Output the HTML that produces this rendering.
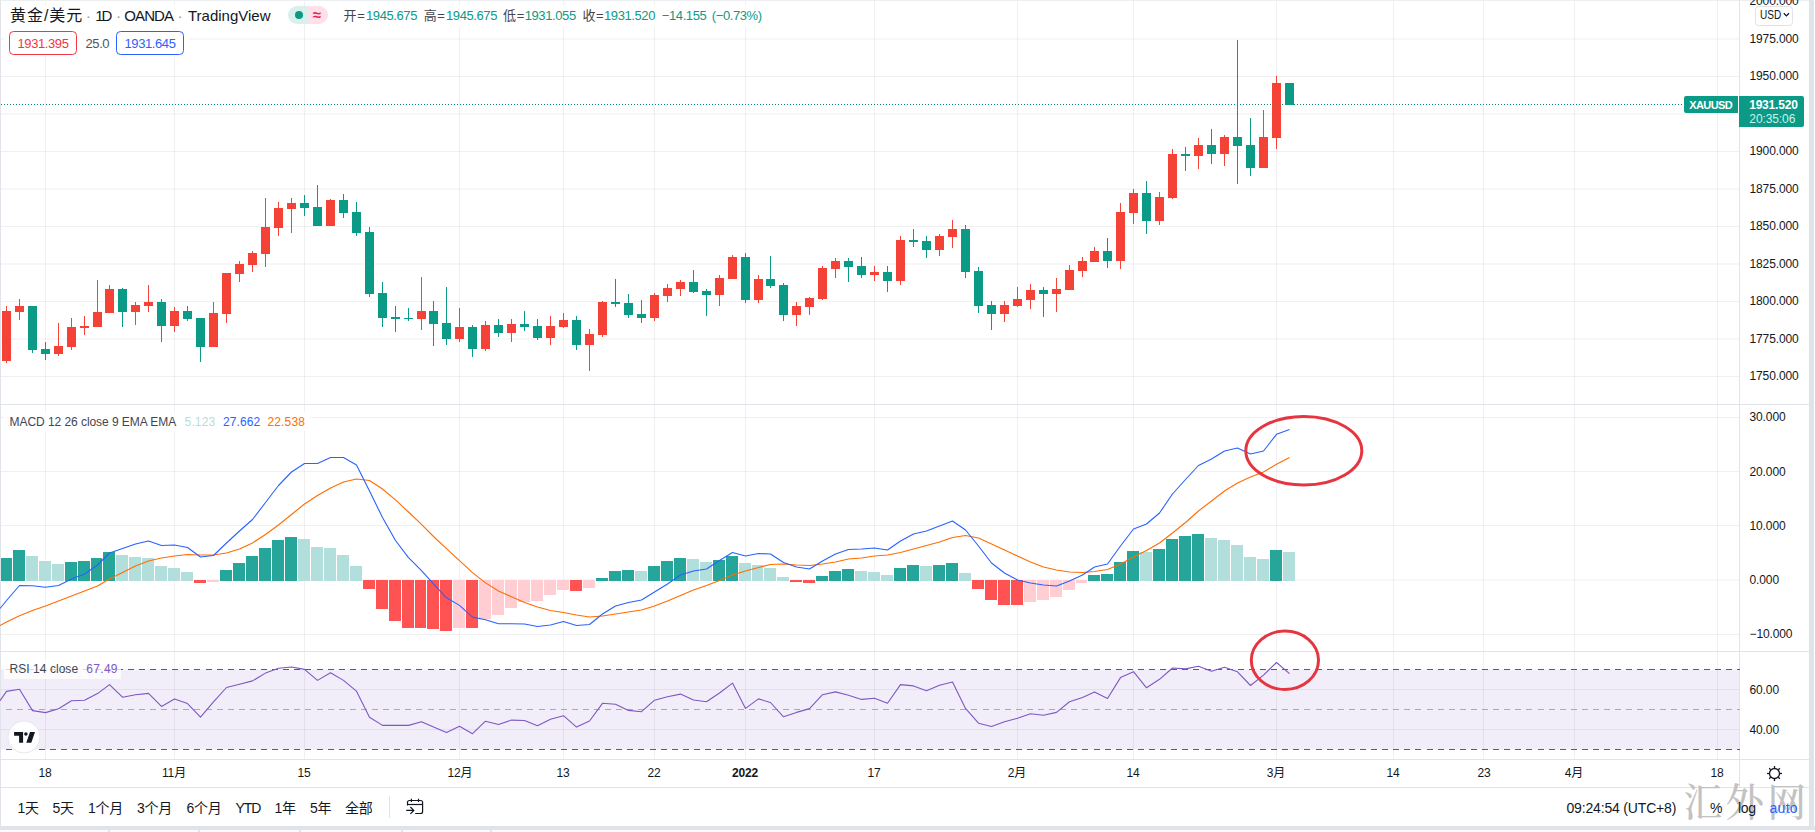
<!DOCTYPE html>
<html lang="zh"><head><meta charset="utf-8"><title>黄金/美元 1D OANDA TradingView</title>
<style>
html,body{margin:0;padding:0;background:#fff;}
body{width:1815px;height:832px;position:relative;overflow:hidden;font-family:"Liberation Sans","Noto Sans CJK SC",sans-serif;}
.t{position:absolute;white-space:nowrap;line-height:20px;height:20px;}
.d{color:#9598a1}
</style></head><body>
<svg width="1815" height="832" viewBox="0 0 1815 832" style="position:absolute;left:0;top:0">
<rect x="1" y="669.5" width="1739" height="80" fill="#7e57c2" fill-opacity="0.1"/>
<g stroke="#2a2e39" stroke-opacity="0.07" stroke-width="1" shape-rendering="crispEdges">
<line x1="45.5" y1="1" x2="45.5" y2="759"/>
<line x1="174.5" y1="1" x2="174.5" y2="759"/>
<line x1="304.5" y1="1" x2="304.5" y2="759"/>
<line x1="459.5" y1="1" x2="459.5" y2="759"/>
<line x1="563.5" y1="1" x2="563.5" y2="759"/>
<line x1="654.5" y1="1" x2="654.5" y2="759"/>
<line x1="745.5" y1="1" x2="745.5" y2="759"/>
<line x1="874.5" y1="1" x2="874.5" y2="759"/>
<line x1="1017.5" y1="1" x2="1017.5" y2="759"/>
<line x1="1133.5" y1="1" x2="1133.5" y2="759"/>
<line x1="1276.5" y1="1" x2="1276.5" y2="759"/>
<line x1="1393.5" y1="1" x2="1393.5" y2="759"/>
<line x1="1483.5" y1="1" x2="1483.5" y2="759"/>
<line x1="1574.5" y1="1" x2="1574.5" y2="759"/>
<line x1="1717.5" y1="1" x2="1717.5" y2="759"/>
</g>
<g stroke="#2a2e39" stroke-opacity="0.07" stroke-width="1">
<line x1="1" y1="39.0" x2="1739" y2="39.0"/>
<line x1="1" y1="76.5" x2="1739" y2="76.5"/>
<line x1="1" y1="114.0" x2="1739" y2="114.0"/>
<line x1="1" y1="151.5" x2="1739" y2="151.5"/>
<line x1="1" y1="189.0" x2="1739" y2="189.0"/>
<line x1="1" y1="226.5" x2="1739" y2="226.5"/>
<line x1="1" y1="264.0" x2="1739" y2="264.0"/>
<line x1="1" y1="301.5" x2="1739" y2="301.5"/>
<line x1="1" y1="339.0" x2="1739" y2="339.0"/>
<line x1="1" y1="376.5" x2="1739" y2="376.5"/>
<line x1="1" y1="417.5" x2="1739" y2="417.5"/>
<line x1="1" y1="471.5" x2="1739" y2="471.5"/>
<line x1="1" y1="525.5" x2="1739" y2="525.5"/>
<line x1="1" y1="580" x2="1739" y2="580"/>
<line x1="1" y1="634.5" x2="1739" y2="634.5"/>
<line x1="1" y1="689.5" x2="1739" y2="689.5"/>
<line x1="1" y1="729.5" x2="1739" y2="729.5"/>
</g>
<g stroke="#e1e3ea" stroke-width="1" shape-rendering="crispEdges">
<line x1="0" y1="0.5" x2="1809" y2="0.5" stroke="#eceef2"/>
<line x1="0" y1="404.5" x2="1809" y2="404.5"/>
<line x1="0" y1="651.5" x2="1809" y2="651.5"/>
<line x1="0" y1="759.5" x2="1809" y2="759.5"/>
<line x1="0" y1="787.5" x2="1809" y2="787.5"/>
<line x1="1739.5" y1="0" x2="1739.5" y2="787"/>
<line x1="0.5" y1="0" x2="0.5" y2="826"/>
<line x1="389.5" y1="796" x2="389.5" y2="818"/>
</g>
<rect x="1809" y="0" width="5" height="830" fill="#e0e4e8" shape-rendering="crispEdges"/>
<rect x="0" y="826" width="1815" height="4" fill="#e0e3eb" shape-rendering="crispEdges"/>
<rect x="0" y="830" width="1815" height="2" fill="#fbfbfc" shape-rendering="crispEdges"/>
<rect x="108" y="830" width="2" height="2" fill="#e0e3eb" shape-rendering="crispEdges"/>
<rect x="198" y="830" width="2" height="2" fill="#e0e3eb" shape-rendering="crispEdges"/>
<rect x="299" y="830" width="2" height="2" fill="#e0e3eb" shape-rendering="crispEdges"/>
<rect x="401" y="830" width="2" height="2" fill="#e0e3eb" shape-rendering="crispEdges"/>
<rect x="490" y="830" width="2" height="2" fill="#e0e3eb" shape-rendering="crispEdges"/>
<line x1="1" y1="104.5" x2="1684" y2="104.5" stroke="#0a8573" stroke-width="1" stroke-dasharray="1 2" shape-rendering="crispEdges"/>
<g shape-rendering="crispEdges">
<rect x="6.0" y="306" width="1" height="57" fill="#f44336"/>
<rect x="2.0" y="311" width="9" height="50" fill="#f44336"/>
<rect x="19.0" y="299" width="1" height="21" fill="#f44336"/>
<rect x="15.0" y="306" width="9" height="6" fill="#f44336"/>
<rect x="32.0" y="306" width="1" height="47" fill="#0a9a86"/>
<rect x="28.0" y="306" width="9" height="43.5" fill="#0a9a86"/>
<rect x="45.0" y="342" width="1" height="18" fill="#0a9a86"/>
<rect x="41.0" y="349" width="9" height="5" fill="#0a9a86"/>
<rect x="58.0" y="323" width="1" height="33" fill="#f44336"/>
<rect x="54.0" y="346" width="9" height="8" fill="#f44336"/>
<rect x="71.0" y="318" width="1" height="32" fill="#f44336"/>
<rect x="67.0" y="327" width="9" height="20" fill="#f44336"/>
<rect x="84.0" y="316" width="1" height="19" fill="#f44336"/>
<rect x="80.0" y="326" width="9" height="2" fill="#f44336"/>
<rect x="97.0" y="280" width="1" height="47" fill="#f44336"/>
<rect x="93.0" y="312" width="9" height="15" fill="#f44336"/>
<rect x="109.0" y="285" width="1" height="28" fill="#f44336"/>
<rect x="105.0" y="289" width="9" height="24" fill="#f44336"/>
<rect x="122.0" y="288" width="1" height="39" fill="#0a9a86"/>
<rect x="118.0" y="289" width="9" height="23" fill="#0a9a86"/>
<rect x="135.0" y="302" width="1" height="23" fill="#f44336"/>
<rect x="131.0" y="305" width="9" height="7" fill="#f44336"/>
<rect x="148.0" y="285" width="1" height="27" fill="#f44336"/>
<rect x="144.0" y="302" width="9" height="4" fill="#f44336"/>
<rect x="161.0" y="299" width="1" height="43" fill="#0a9a86"/>
<rect x="157.0" y="302" width="9" height="24" fill="#0a9a86"/>
<rect x="174.0" y="307" width="1" height="25" fill="#f44336"/>
<rect x="170.0" y="311" width="9" height="15" fill="#f44336"/>
<rect x="187.0" y="306" width="1" height="15" fill="#0a9a86"/>
<rect x="183.0" y="311" width="9" height="8" fill="#0a9a86"/>
<rect x="200.0" y="318" width="1" height="44" fill="#0a9a86"/>
<rect x="196.0" y="318" width="9" height="29" fill="#0a9a86"/>
<rect x="213.0" y="302" width="1" height="45" fill="#f44336"/>
<rect x="209.0" y="313" width="9" height="34" fill="#f44336"/>
<rect x="226.0" y="273" width="1" height="50" fill="#f44336"/>
<rect x="222.0" y="273" width="9" height="41" fill="#f44336"/>
<rect x="239.0" y="261" width="1" height="21" fill="#f44336"/>
<rect x="235.0" y="264" width="9" height="10" fill="#f44336"/>
<rect x="252.0" y="251" width="1" height="21" fill="#f44336"/>
<rect x="248.0" y="253" width="9" height="12" fill="#f44336"/>
<rect x="265.0" y="198" width="1" height="69" fill="#f44336"/>
<rect x="261.0" y="227" width="9" height="27" fill="#f44336"/>
<rect x="278.0" y="202" width="1" height="34" fill="#f44336"/>
<rect x="274.0" y="208" width="9" height="20" fill="#f44336"/>
<rect x="291.0" y="198" width="1" height="35" fill="#f44336"/>
<rect x="287.0" y="203" width="9" height="6" fill="#f44336"/>
<rect x="304.0" y="195" width="1" height="21" fill="#0a9a86"/>
<rect x="300.0" y="203" width="9" height="5" fill="#0a9a86"/>
<rect x="317.0" y="185" width="1" height="41" fill="#0a9a86"/>
<rect x="313.0" y="207" width="9" height="19" fill="#0a9a86"/>
<rect x="330.0" y="199" width="1" height="27" fill="#f44336"/>
<rect x="326.0" y="200" width="9" height="26" fill="#f44336"/>
<rect x="343.0" y="194" width="1" height="24" fill="#0a9a86"/>
<rect x="339.0" y="200" width="9" height="13" fill="#0a9a86"/>
<rect x="356.0" y="202" width="1" height="34" fill="#0a9a86"/>
<rect x="352.0" y="212" width="9" height="21" fill="#0a9a86"/>
<rect x="369.0" y="227" width="1" height="70" fill="#0a9a86"/>
<rect x="365.0" y="232" width="9" height="62" fill="#0a9a86"/>
<rect x="382.0" y="282" width="1" height="45" fill="#0a9a86"/>
<rect x="378.0" y="293" width="9" height="25" fill="#0a9a86"/>
<rect x="395.0" y="306" width="1" height="26" fill="#0a9a86"/>
<rect x="391.0" y="317" width="9" height="2" fill="#0a9a86"/>
<rect x="408.0" y="308" width="1" height="13" fill="#0a9a86"/>
<rect x="404.0" y="318" width="9" height="1" fill="#0a9a86"/>
<rect x="421.0" y="277" width="1" height="53" fill="#f44336"/>
<rect x="417.0" y="311" width="9" height="8" fill="#f44336"/>
<rect x="433.0" y="301" width="1" height="45" fill="#0a9a86"/>
<rect x="429.0" y="311" width="9" height="13" fill="#0a9a86"/>
<rect x="446.0" y="287" width="1" height="58" fill="#0a9a86"/>
<rect x="442.0" y="323" width="9" height="16" fill="#0a9a86"/>
<rect x="459.0" y="308" width="1" height="34" fill="#f44336"/>
<rect x="455.0" y="327" width="9" height="12" fill="#f44336"/>
<rect x="472.0" y="325" width="1" height="32" fill="#0a9a86"/>
<rect x="468.0" y="327" width="9" height="22" fill="#0a9a86"/>
<rect x="485.0" y="321" width="1" height="30" fill="#f44336"/>
<rect x="481.0" y="325" width="9" height="24" fill="#f44336"/>
<rect x="498.0" y="319" width="1" height="18" fill="#0a9a86"/>
<rect x="494.0" y="325" width="9" height="8" fill="#0a9a86"/>
<rect x="511.0" y="319" width="1" height="23" fill="#f44336"/>
<rect x="507.0" y="324" width="9" height="9" fill="#f44336"/>
<rect x="524.0" y="311" width="1" height="20" fill="#0a9a86"/>
<rect x="520.0" y="324" width="9" height="3" fill="#0a9a86"/>
<rect x="537.0" y="319" width="1" height="21" fill="#0a9a86"/>
<rect x="533.0" y="326" width="9" height="12" fill="#0a9a86"/>
<rect x="550.0" y="316" width="1" height="29" fill="#f44336"/>
<rect x="546.0" y="326" width="9" height="12" fill="#f44336"/>
<rect x="563.0" y="313" width="1" height="15" fill="#f44336"/>
<rect x="559.0" y="320" width="9" height="7" fill="#f44336"/>
<rect x="576.0" y="316" width="1" height="34" fill="#0a9a86"/>
<rect x="572.0" y="320" width="9" height="25" fill="#0a9a86"/>
<rect x="589.0" y="329" width="1" height="42" fill="#f44336"/>
<rect x="585.0" y="334" width="9" height="11" fill="#f44336"/>
<rect x="602.0" y="301" width="1" height="36" fill="#f44336"/>
<rect x="598.0" y="302" width="9" height="33" fill="#f44336"/>
<rect x="615.0" y="279" width="1" height="28" fill="#0a9a86"/>
<rect x="611.0" y="302" width="9" height="2" fill="#0a9a86"/>
<rect x="628.0" y="294" width="1" height="24" fill="#0a9a86"/>
<rect x="624.0" y="303" width="9" height="12" fill="#0a9a86"/>
<rect x="641.0" y="300" width="1" height="23" fill="#0a9a86"/>
<rect x="637.0" y="314" width="9" height="4" fill="#0a9a86"/>
<rect x="654.0" y="293" width="1" height="28" fill="#f44336"/>
<rect x="650.0" y="295" width="9" height="23" fill="#f44336"/>
<rect x="667.0" y="284" width="1" height="18" fill="#f44336"/>
<rect x="663.0" y="288" width="9" height="8" fill="#f44336"/>
<rect x="680.0" y="280" width="1" height="16" fill="#f44336"/>
<rect x="676.0" y="282" width="9" height="7" fill="#f44336"/>
<rect x="693.0" y="270" width="1" height="23" fill="#0a9a86"/>
<rect x="689.0" y="282" width="9" height="10" fill="#0a9a86"/>
<rect x="706.0" y="289" width="1" height="27" fill="#0a9a86"/>
<rect x="702.0" y="291" width="9" height="4" fill="#0a9a86"/>
<rect x="719.0" y="275" width="1" height="31" fill="#f44336"/>
<rect x="715.0" y="278" width="9" height="17" fill="#f44336"/>
<rect x="732.0" y="255" width="1" height="24" fill="#f44336"/>
<rect x="728.0" y="257" width="9" height="22" fill="#f44336"/>
<rect x="745.0" y="253" width="1" height="50" fill="#0a9a86"/>
<rect x="741.0" y="257" width="9" height="43" fill="#0a9a86"/>
<rect x="758.0" y="275" width="1" height="28" fill="#f44336"/>
<rect x="754.0" y="279" width="9" height="21" fill="#f44336"/>
<rect x="770.0" y="256" width="1" height="32" fill="#0a9a86"/>
<rect x="766.0" y="279" width="9" height="7" fill="#0a9a86"/>
<rect x="783.0" y="283" width="1" height="38" fill="#0a9a86"/>
<rect x="779.0" y="285" width="9" height="30" fill="#0a9a86"/>
<rect x="796.0" y="302" width="1" height="24" fill="#f44336"/>
<rect x="792.0" y="306" width="9" height="9" fill="#f44336"/>
<rect x="809.0" y="297" width="1" height="18" fill="#f44336"/>
<rect x="805.0" y="298" width="9" height="9" fill="#f44336"/>
<rect x="822.0" y="266" width="1" height="34" fill="#f44336"/>
<rect x="818.0" y="268" width="9" height="31" fill="#f44336"/>
<rect x="835.0" y="258" width="1" height="20" fill="#f44336"/>
<rect x="831.0" y="261" width="9" height="8" fill="#f44336"/>
<rect x="848.0" y="258" width="1" height="24" fill="#0a9a86"/>
<rect x="844.0" y="261" width="9" height="6" fill="#0a9a86"/>
<rect x="861.0" y="257" width="1" height="21" fill="#0a9a86"/>
<rect x="857.0" y="266" width="9" height="9" fill="#0a9a86"/>
<rect x="874.0" y="266" width="1" height="15" fill="#f44336"/>
<rect x="870.0" y="272" width="9" height="3" fill="#f44336"/>
<rect x="887.0" y="266" width="1" height="26" fill="#0a9a86"/>
<rect x="883.0" y="272" width="9" height="9" fill="#0a9a86"/>
<rect x="900.0" y="236" width="1" height="49" fill="#f44336"/>
<rect x="896.0" y="240" width="9" height="41" fill="#f44336"/>
<rect x="913.0" y="229" width="1" height="18" fill="#0a9a86"/>
<rect x="909.0" y="240" width="9" height="2" fill="#0a9a86"/>
<rect x="926.0" y="236" width="1" height="22" fill="#0a9a86"/>
<rect x="922.0" y="241" width="9" height="9" fill="#0a9a86"/>
<rect x="939.0" y="234" width="1" height="22" fill="#f44336"/>
<rect x="935.0" y="236" width="9" height="14" fill="#f44336"/>
<rect x="952.0" y="220" width="1" height="28" fill="#f44336"/>
<rect x="948.0" y="229" width="9" height="8" fill="#f44336"/>
<rect x="965.0" y="225" width="1" height="53" fill="#0a9a86"/>
<rect x="961.0" y="229" width="9" height="43" fill="#0a9a86"/>
<rect x="978.0" y="267" width="1" height="46" fill="#0a9a86"/>
<rect x="974.0" y="271" width="9" height="35" fill="#0a9a86"/>
<rect x="991.0" y="301" width="1" height="29" fill="#0a9a86"/>
<rect x="987.0" y="305" width="9" height="9" fill="#0a9a86"/>
<rect x="1004.0" y="301" width="1" height="21" fill="#f44336"/>
<rect x="1000.0" y="305" width="9" height="9" fill="#f44336"/>
<rect x="1017.0" y="287" width="1" height="20" fill="#f44336"/>
<rect x="1013.0" y="299" width="9" height="7" fill="#f44336"/>
<rect x="1030.0" y="284" width="1" height="25" fill="#f44336"/>
<rect x="1026.0" y="290" width="9" height="10" fill="#f44336"/>
<rect x="1043.0" y="287" width="1" height="30" fill="#0a9a86"/>
<rect x="1039.0" y="290" width="9" height="4" fill="#0a9a86"/>
<rect x="1056.0" y="278" width="1" height="34" fill="#f44336"/>
<rect x="1052.0" y="289" width="9" height="5" fill="#f44336"/>
<rect x="1069.0" y="265" width="1" height="25" fill="#f44336"/>
<rect x="1065.0" y="270" width="9" height="20" fill="#f44336"/>
<rect x="1082.0" y="257" width="1" height="20" fill="#f44336"/>
<rect x="1078.0" y="261" width="9" height="10" fill="#f44336"/>
<rect x="1094.0" y="247" width="1" height="15" fill="#f44336"/>
<rect x="1090.0" y="251" width="9" height="11" fill="#f44336"/>
<rect x="1107.0" y="238" width="1" height="30" fill="#0a9a86"/>
<rect x="1103.0" y="251" width="9" height="10" fill="#0a9a86"/>
<rect x="1120.0" y="203" width="1" height="66" fill="#f44336"/>
<rect x="1116.0" y="212" width="9" height="49" fill="#f44336"/>
<rect x="1133.0" y="189" width="1" height="35" fill="#f44336"/>
<rect x="1129.0" y="193" width="9" height="20" fill="#f44336"/>
<rect x="1146.0" y="181" width="1" height="53" fill="#0a9a86"/>
<rect x="1142.0" y="193" width="9" height="28" fill="#0a9a86"/>
<rect x="1159.0" y="192" width="1" height="33" fill="#f44336"/>
<rect x="1155.0" y="197" width="9" height="24" fill="#f44336"/>
<rect x="1172.0" y="149" width="1" height="50" fill="#f44336"/>
<rect x="1168.0" y="154" width="9" height="44" fill="#f44336"/>
<rect x="1185.0" y="147" width="1" height="24" fill="#0a9a86"/>
<rect x="1181.0" y="154" width="9" height="2" fill="#0a9a86"/>
<rect x="1198.0" y="138" width="1" height="31" fill="#f44336"/>
<rect x="1194.0" y="145" width="9" height="11" fill="#f44336"/>
<rect x="1211.0" y="129" width="1" height="35" fill="#0a9a86"/>
<rect x="1207.0" y="145" width="9" height="9" fill="#0a9a86"/>
<rect x="1224.0" y="135" width="1" height="31" fill="#f44336"/>
<rect x="1220.0" y="137" width="9" height="17" fill="#f44336"/>
<rect x="1237.0" y="40" width="1" height="144" fill="#0a9a86"/>
<rect x="1233.0" y="137" width="9" height="9" fill="#0a9a86"/>
<rect x="1250.0" y="118" width="1" height="58" fill="#0a9a86"/>
<rect x="1246.0" y="145" width="9" height="23" fill="#0a9a86"/>
<rect x="1263.0" y="110" width="1" height="58" fill="#f44336"/>
<rect x="1259.0" y="137" width="9" height="31" fill="#f44336"/>
<rect x="1276.0" y="76" width="1" height="73" fill="#f44336"/>
<rect x="1272.0" y="83" width="9" height="55" fill="#f44336"/>
<rect x="1289.0" y="83" width="1" height="21.5" fill="#0a9a86"/>
<rect x="1285.0" y="83" width="9" height="21.5" fill="#0a9a86"/>
</g>
<g shape-rendering="crispEdges">
<rect x="1" y="558" width="11" height="23" fill="#26a69a"/>
<rect x="13" y="550" width="12" height="31" fill="#26a69a"/>
<rect x="26" y="556" width="12" height="25" fill="#b2dfdb"/>
<rect x="39" y="561" width="12" height="20" fill="#b2dfdb"/>
<rect x="52" y="564" width="12" height="17" fill="#b2dfdb"/>
<rect x="65" y="562" width="12" height="19" fill="#26a69a"/>
<rect x="78" y="561" width="12" height="20" fill="#26a69a"/>
<rect x="91" y="558" width="11" height="23" fill="#26a69a"/>
<rect x="103" y="552" width="12" height="29" fill="#26a69a"/>
<rect x="116" y="555" width="12" height="26" fill="#b2dfdb"/>
<rect x="129" y="557" width="12" height="24" fill="#b2dfdb"/>
<rect x="142" y="558" width="12" height="23" fill="#b2dfdb"/>
<rect x="155" y="566" width="12" height="15" fill="#b2dfdb"/>
<rect x="168" y="568" width="12" height="13" fill="#b2dfdb"/>
<rect x="181" y="572" width="12" height="9" fill="#b2dfdb"/>
<rect x="194" y="580" width="12" height="3" fill="#ff5252"/>
<rect x="207" y="580" width="12" height="1.5" fill="#ffcdd2"/>
<rect x="220" y="570" width="12" height="11" fill="#26a69a"/>
<rect x="233" y="563" width="12" height="18" fill="#26a69a"/>
<rect x="246" y="556" width="12" height="25" fill="#26a69a"/>
<rect x="259" y="548" width="12" height="33" fill="#26a69a"/>
<rect x="272" y="540" width="12" height="41" fill="#26a69a"/>
<rect x="285" y="537" width="12" height="44" fill="#26a69a"/>
<rect x="298" y="539" width="12" height="42" fill="#b2dfdb"/>
<rect x="311" y="547" width="12" height="34" fill="#b2dfdb"/>
<rect x="324" y="548" width="12" height="33" fill="#b2dfdb"/>
<rect x="337" y="555" width="12" height="26" fill="#b2dfdb"/>
<rect x="350" y="566" width="12" height="15" fill="#b2dfdb"/>
<rect x="363" y="580" width="12" height="9" fill="#ff5252"/>
<rect x="376" y="580" width="12" height="29" fill="#ff5252"/>
<rect x="389" y="580" width="12" height="41" fill="#ff5252"/>
<rect x="402" y="580" width="12" height="48" fill="#ff5252"/>
<rect x="415" y="580" width="11" height="47.5" fill="#ff5252"/>
<rect x="427" y="580" width="12" height="49" fill="#ff5252"/>
<rect x="440" y="580" width="12" height="51" fill="#ff5252"/>
<rect x="453" y="580" width="12" height="47.5" fill="#ffcdd2"/>
<rect x="466" y="580" width="12" height="47.5" fill="#ff5252"/>
<rect x="479" y="580" width="12" height="39" fill="#ffcdd2"/>
<rect x="492" y="580" width="12" height="35" fill="#ffcdd2"/>
<rect x="505" y="580" width="12" height="28" fill="#ffcdd2"/>
<rect x="518" y="580" width="12" height="22" fill="#ffcdd2"/>
<rect x="531" y="580" width="12" height="21" fill="#ffcdd2"/>
<rect x="544" y="580" width="12" height="15" fill="#ffcdd2"/>
<rect x="557" y="580" width="12" height="10" fill="#ffcdd2"/>
<rect x="570" y="580" width="12" height="11" fill="#ff5252"/>
<rect x="583" y="580" width="12" height="8" fill="#ffcdd2"/>
<rect x="596" y="578" width="12" height="3" fill="#26a69a"/>
<rect x="609" y="571" width="12" height="10" fill="#26a69a"/>
<rect x="622" y="570" width="12" height="11" fill="#26a69a"/>
<rect x="635" y="571" width="12" height="10" fill="#b2dfdb"/>
<rect x="648" y="566" width="12" height="15" fill="#26a69a"/>
<rect x="661" y="561" width="12" height="20" fill="#26a69a"/>
<rect x="674" y="558" width="12" height="23" fill="#26a69a"/>
<rect x="687" y="559" width="12" height="22" fill="#b2dfdb"/>
<rect x="700" y="562" width="12" height="19" fill="#b2dfdb"/>
<rect x="713" y="560" width="12" height="21" fill="#26a69a"/>
<rect x="726" y="556" width="12" height="25" fill="#26a69a"/>
<rect x="739" y="563" width="12" height="18" fill="#b2dfdb"/>
<rect x="752" y="565" width="11" height="16" fill="#b2dfdb"/>
<rect x="764" y="568" width="12" height="13" fill="#b2dfdb"/>
<rect x="777" y="577" width="12" height="4" fill="#b2dfdb"/>
<rect x="790" y="580" width="12" height="2" fill="#ff5252"/>
<rect x="803" y="580" width="12" height="3" fill="#ff5252"/>
<rect x="816" y="576" width="12" height="5" fill="#26a69a"/>
<rect x="829" y="571" width="12" height="10" fill="#26a69a"/>
<rect x="842" y="569" width="12" height="12" fill="#26a69a"/>
<rect x="855" y="571" width="12" height="10" fill="#b2dfdb"/>
<rect x="868" y="572" width="12" height="9" fill="#b2dfdb"/>
<rect x="881" y="575" width="12" height="6" fill="#b2dfdb"/>
<rect x="894" y="568" width="12" height="13" fill="#26a69a"/>
<rect x="907" y="565" width="12" height="16" fill="#26a69a"/>
<rect x="920" y="566" width="12" height="15" fill="#b2dfdb"/>
<rect x="933" y="565" width="12" height="16" fill="#26a69a"/>
<rect x="946" y="563" width="12" height="18" fill="#26a69a"/>
<rect x="959" y="573" width="12" height="8" fill="#b2dfdb"/>
<rect x="972" y="580" width="12" height="9" fill="#ff5252"/>
<rect x="985" y="580" width="12" height="20" fill="#ff5252"/>
<rect x="998" y="580" width="12" height="25" fill="#ff5252"/>
<rect x="1011" y="580" width="12" height="25" fill="#ff5252"/>
<rect x="1024" y="580" width="12" height="22" fill="#ffcdd2"/>
<rect x="1037" y="580" width="12" height="20" fill="#ffcdd2"/>
<rect x="1050" y="580" width="12" height="17" fill="#ffcdd2"/>
<rect x="1063" y="580" width="12" height="10" fill="#ffcdd2"/>
<rect x="1076" y="580" width="11" height="3" fill="#ffcdd2"/>
<rect x="1088" y="575" width="12" height="6" fill="#26a69a"/>
<rect x="1101" y="574" width="12" height="7" fill="#26a69a"/>
<rect x="1114" y="562" width="12" height="19" fill="#26a69a"/>
<rect x="1127" y="551" width="12" height="30" fill="#26a69a"/>
<rect x="1140" y="552" width="12" height="29" fill="#b2dfdb"/>
<rect x="1153" y="549" width="12" height="32" fill="#26a69a"/>
<rect x="1166" y="539" width="12" height="42" fill="#26a69a"/>
<rect x="1179" y="536" width="12" height="45" fill="#26a69a"/>
<rect x="1192" y="534" width="12" height="47" fill="#26a69a"/>
<rect x="1205" y="538" width="12" height="43" fill="#b2dfdb"/>
<rect x="1218" y="540" width="12" height="41" fill="#b2dfdb"/>
<rect x="1231" y="545" width="12" height="36" fill="#b2dfdb"/>
<rect x="1244" y="557" width="12" height="24" fill="#b2dfdb"/>
<rect x="1257" y="559" width="12" height="22" fill="#b2dfdb"/>
<rect x="1270" y="550" width="12" height="31" fill="#26a69a"/>
<rect x="1283" y="552" width="12" height="29" fill="#b2dfdb"/>
</g>
<polyline points="0,625.5 6.5,622 19.5,615.75 32.5,610.5 45.5,606 58.5,601 71.5,596 84.5,591 97.5,586 109.5,579 122.5,572.5 135.5,566 148.5,561 161.5,558 174.5,556 187.5,554.5 200.5,555 213.5,555 226.5,553 239.5,549 252.5,543 265.5,534.5 278.5,525 291.5,514.5 304.5,504 317.5,495.5 330.5,488 343.5,482 356.5,479 369.5,480.5 382.5,489 395.5,499.9 408.5,512 421.5,524.3 433.5,536.5 446.5,548.6 459.5,560.7 472.5,572.6 485.5,582.9 498.5,591 511.5,596.7 524.5,602.5 537.5,607 550.5,610.5 563.5,612.5 576.5,615 589.5,617 602.5,616 615.5,614 628.5,612 641.5,610 654.5,606 667.5,601 680.5,595.5 693.5,590 706.5,585.5 719.5,580.5 732.5,575 745.5,571 758.5,567.5 770.5,564.5 783.5,564 796.5,565 809.5,565.5 822.5,564 835.5,562 848.5,559 861.5,558 874.5,556 887.5,555 900.5,552.5 913.5,549 926.5,545.5 939.5,542 952.5,537.5 965.5,535.5 978.5,538 991.5,544 1004.5,550 1017.5,556 1030.5,562 1043.5,567 1056.5,570 1069.5,572 1082.5,572.5 1094.5,571.5 1107.5,569.5 1120.5,564 1133.5,557 1146.5,550.5 1159.5,543 1172.5,533 1185.5,522.5 1198.5,511 1211.5,501 1224.5,491 1237.5,483 1250.5,477 1263.5,472 1276.5,464.3 1289.5,457.5" fill="none" stroke="#ff6d00" stroke-width="1.1" stroke-linejoin="round"/>
<polyline points="0,608.5 6.5,600.5 19.5,585.5 32.5,585.75 45.5,587.25 58.5,585.5 71.5,579 84.5,574 97.5,565 109.5,553 122.5,548.5 135.5,544 148.5,541 161.5,545.5 174.5,545 187.5,547.5 200.5,557 213.5,555.5 226.5,543 239.5,531 252.5,519.5 265.5,502.5 278.5,485.5 291.5,472 304.5,463.5 317.5,463.5 330.5,457.5 343.5,457.5 356.5,465 369.5,491 382.5,517.5 395.5,540.5 408.5,557.6 421.5,570.6 433.5,583.8 446.5,597.8 459.5,605.4 472.5,617.1 485.5,619.8 498.5,623.8 511.5,623.8 524.5,624 537.5,626.5 550.5,625 563.5,621.5 576.5,625.5 589.5,624.5 602.5,614 615.5,606 628.5,602.5 641.5,600 654.5,592 667.5,584 680.5,575 693.5,571 706.5,569 719.5,560.5 732.5,552.5 745.5,556 758.5,553.5 770.5,554 783.5,562.5 796.5,567 809.5,569 822.5,561 835.5,554 848.5,549.5 861.5,549 874.5,548 887.5,550 900.5,541 913.5,534 926.5,531 939.5,526 952.5,521 965.5,530 978.5,546 991.5,563 1004.5,573 1017.5,580 1030.5,583 1043.5,585 1056.5,586 1069.5,581 1082.5,575 1094.5,567 1107.5,564 1120.5,546 1133.5,529 1146.5,524 1159.5,513 1172.5,494 1185.5,479.5 1198.5,465.5 1211.5,459 1224.5,451 1237.5,448 1250.5,454 1263.5,451 1276.5,434.3 1289.5,429.5" fill="none" stroke="#2962ff" stroke-width="1.1" stroke-linejoin="round"/>
<line x1="1" y1="669.5" x2="1740" y2="669.5" stroke="#5a5d68" stroke-width="1" stroke-dasharray="6 5.1" stroke-dashoffset="6.4" shape-rendering="crispEdges"/>
<line x1="1" y1="749.5" x2="1740" y2="749.5" stroke="#5a5d68" stroke-width="1" stroke-dasharray="6 5.1" stroke-dashoffset="6.4" shape-rendering="crispEdges"/>
<line x1="1" y1="709.5" x2="1740" y2="709.5" stroke="#a9abb3" stroke-width="1" stroke-dasharray="6 5.1" stroke-dashoffset="6.4" shape-rendering="crispEdges"/>
<polyline points="0,700.7 6.5,691.4 19.5,689.2 32.5,710.6 45.5,712.6 58.5,708.8 71.5,700.7 84.5,700.2 97.5,693.6 109.5,684.6 122.5,697.2 135.5,694.7 148.5,693.4 161.5,706.4 174.5,699.1 187.5,703.6 200.5,717.2 213.5,701.8 226.5,687.5 239.5,684.2 252.5,680.9 265.5,673.1 278.5,668.3 291.5,667 304.5,669.4 317.5,680.4 330.5,672.7 343.5,680.4 356.5,691.2 369.5,717.2 382.5,725.4 395.5,725.4 408.5,725.4 421.5,721.8 433.5,727.1 446.5,732.4 459.5,726.3 472.5,733.7 485.5,721.2 498.5,724.5 511.5,720.1 524.5,720.5 537.5,725.8 550.5,719.2 563.5,715.7 576.5,727.1 589.5,721 602.5,703.3 615.5,704.2 628.5,710.4 641.5,711.7 654.5,700.2 667.5,696.7 680.5,694.1 693.5,700 706.5,701.8 719.5,693 732.5,683.1 745.5,708.4 758.5,698.9 770.5,702.5 783.5,716.8 796.5,712.4 809.5,708.6 822.5,694.7 835.5,691.9 848.5,695.2 861.5,699.4 874.5,698.3 887.5,703.3 900.5,684.6 913.5,685.9 926.5,690.8 939.5,685.3 952.5,682 965.5,708.4 978.5,723.2 991.5,726.5 1004.5,721.8 1017.5,718.3 1030.5,713.7 1043.5,715.2 1056.5,712.4 1069.5,701.8 1082.5,697.4 1094.5,691.9 1107.5,698.5 1120.5,677.6 1133.5,671.7 1146.5,687.8 1159.5,679.3 1172.5,668 1185.5,668.9 1198.5,666.3 1211.5,671.3 1224.5,667.2 1237.5,671.8 1250.5,685.5 1263.5,675.1 1276.5,662.5 1289.5,673.6" fill="none" stroke="#7e57c2" stroke-width="1.1" stroke-linejoin="round"/>
<ellipse cx="1303.8" cy="450.7" rx="58" ry="34.3" fill="none" stroke="#e53540" stroke-width="3"/>
<ellipse cx="1284.9" cy="660.3" rx="33.6" ry="29.2" fill="none" stroke="#e53540" stroke-width="3"/>
<path d="M1686,96 H1738 V113 H1686 a2,2 0 0 1 -2,-2 V98 a2,2 0 0 1 2,-2 z" fill="#0a9a86"/>
<path d="M1739,96 H1802 a2,2 0 0 1 2,2 V125 a2,2 0 0 1 -2,2 H1739 z" fill="#0a9a86"/>
<circle cx="24" cy="737" r="16" fill="#fff" stroke="#e6e8ee" stroke-width="1"/>
<g fill="#131722"><path d="M14.1,731.9 H23.1 V742.8 H19.1 V735.7 H14.1 Z"/><circle cx="25.9" cy="734.1" r="1.75"/><path d="M30,731.9 H35 L31.3,742.8 H26.3 Z"/></g>
<rect x="4" y="5" width="272" height="23" fill="#fff" fill-opacity="0.85"/>
<rect x="340" y="5" width="424" height="23" fill="#fff" fill-opacity="0.85"/>
<rect x="4" y="30" width="185" height="27" fill="#fff" fill-opacity="0.85"/>
<rect x="4" y="412" width="307" height="19" fill="#fff" fill-opacity="0.85"/>
<path d="M297,6 H308 V24 H297 a9,9 0 0 1 0,-18 z" fill="#d9f0ec"/>
<path d="M308,6 H319 a9,9 0 0 1 0,18 H308 z" fill="#fde0e8"/>
<circle cx="299" cy="15" r="4" fill="#0a9a86"/>
<rect x="9.5" y="31.5" width="67" height="23" rx="4" fill="#fff" stroke="#f23645" stroke-width="1"/>
<rect x="116.5" y="31.5" width="67" height="23" rx="4" fill="#fff" stroke="#2962ff" stroke-width="1"/>
<rect x="1755.5" y="6.5" width="37" height="19" rx="3" fill="#fff" stroke="#e0e3eb" stroke-width="1"/>
<path d="M1783.8,13.3 l2.6,2.6 l2.6,-2.6" fill="none" stroke="#131722" stroke-width="1.3"/>
<g transform="translate(1774.5,773.5)" stroke="#131722" fill="none"><circle r="5" stroke-width="1.3"/>
<line x1="5.40" y1="0.00" x2="7.50" y2="0.00" stroke-width="1.3"/>
<line x1="3.82" y1="3.82" x2="5.30" y2="5.30" stroke-width="1.3"/>
<line x1="0.00" y1="5.40" x2="0.00" y2="7.50" stroke-width="1.3"/>
<line x1="-3.82" y1="3.82" x2="-5.30" y2="5.30" stroke-width="1.3"/>
<line x1="-5.40" y1="0.00" x2="-7.50" y2="0.00" stroke-width="1.3"/>
<line x1="-3.82" y1="-3.82" x2="-5.30" y2="-5.30" stroke-width="1.3"/>
<line x1="-0.00" y1="-5.40" x2="-0.00" y2="-7.50" stroke-width="1.3"/>
<line x1="3.82" y1="-3.82" x2="5.30" y2="-5.30" stroke-width="1.3"/>
</g>
<g stroke="#131722" stroke-width="1.2" fill="none"><path d="M407.5,805.6 V802.5 a2,2 0 0 1 2,-2 H420.6 a2,2 0 0 1 2,2 V811.5 a2,2 0 0 1 -2,2 H415.2"/><path d="M407.5,804.5 H422.6"/><path d="M411.4,798.8 V802 M418.5,798.8 V802"/><path d="M406.2,810.4 H413.6 M410.4,807 L413.8,810.4 L410.4,813.8"/></g>
</svg>
<div class="t" style="left:1683.5px;top:778px;line-height:50px;height:50px;font-size:38.5px;color:#c2c2c2;font-weight:500;letter-spacing:3.5px;font-family:'Liberation Serif','Noto Serif CJK SC',serif;">汇外网</div>
<div class="t" style="top:-9.0px;font-size:12px;color:#131722;font-weight:normal;letter-spacing:-0.12px;left:1749.5px;">2000.000</div>
<div class="t" style="top:28.5px;font-size:12px;color:#131722;font-weight:normal;letter-spacing:-0.12px;left:1749.5px;">1975.000</div>
<div class="t" style="top:66.0px;font-size:12px;color:#131722;font-weight:normal;letter-spacing:-0.12px;left:1749.5px;">1950.000</div>
<div class="t" style="top:141.0px;font-size:12px;color:#131722;font-weight:normal;letter-spacing:-0.12px;left:1749.5px;">1900.000</div>
<div class="t" style="top:178.5px;font-size:12px;color:#131722;font-weight:normal;letter-spacing:-0.12px;left:1749.5px;">1875.000</div>
<div class="t" style="top:216.0px;font-size:12px;color:#131722;font-weight:normal;letter-spacing:-0.12px;left:1749.5px;">1850.000</div>
<div class="t" style="top:253.5px;font-size:12px;color:#131722;font-weight:normal;letter-spacing:-0.12px;left:1749.5px;">1825.000</div>
<div class="t" style="top:291.0px;font-size:12px;color:#131722;font-weight:normal;letter-spacing:-0.12px;left:1749.5px;">1800.000</div>
<div class="t" style="top:328.5px;font-size:12px;color:#131722;font-weight:normal;letter-spacing:-0.12px;left:1749.5px;">1775.000</div>
<div class="t" style="top:366.0px;font-size:12px;color:#131722;font-weight:normal;letter-spacing:-0.12px;left:1749.5px;">1750.000</div>
<div class="t" style="top:407.0px;font-size:12px;color:#131722;font-weight:normal;letter-spacing:-0.12px;left:1749.5px;">30.000</div>
<div class="t" style="top:461.5px;font-size:12px;color:#131722;font-weight:normal;letter-spacing:-0.12px;left:1749.5px;">20.000</div>
<div class="t" style="top:515.5px;font-size:12px;color:#131722;font-weight:normal;letter-spacing:-0.12px;left:1749.5px;">10.000</div>
<div class="t" style="top:570.0px;font-size:12px;color:#131722;font-weight:normal;letter-spacing:-0.12px;left:1749.5px;">0.000</div>
<div class="t" style="top:624.0px;font-size:12px;color:#131722;font-weight:normal;letter-spacing:-0.12px;left:1749.5px;">−10.000</div>
<div class="t" style="top:679.5px;font-size:12px;color:#131722;font-weight:normal;letter-spacing:-0.12px;left:1749.5px;">60.00</div>
<div class="t" style="top:719.5px;font-size:12px;color:#131722;font-weight:normal;letter-spacing:-0.12px;left:1749.5px;">40.00</div>
<div class="t" style="top:763.0px;font-size:12px;color:#131722;font-weight:normal;letter-spacing:-0.12px;left:-105px;width:300px;text-align:center;">18</div>
<div class="t" style="top:763.0px;font-size:12px;color:#131722;font-weight:normal;letter-spacing:-0.12px;left:24px;width:300px;text-align:center;">11月</div>
<div class="t" style="top:763.0px;font-size:12px;color:#131722;font-weight:normal;letter-spacing:-0.12px;left:154px;width:300px;text-align:center;">15</div>
<div class="t" style="top:763.0px;font-size:12px;color:#131722;font-weight:normal;letter-spacing:-0.12px;left:310px;width:300px;text-align:center;">12月</div>
<div class="t" style="top:763.0px;font-size:12px;color:#131722;font-weight:normal;letter-spacing:-0.12px;left:413px;width:300px;text-align:center;">13</div>
<div class="t" style="top:763.0px;font-size:12px;color:#131722;font-weight:normal;letter-spacing:-0.12px;left:504px;width:300px;text-align:center;">22</div>
<div class="t" style="top:763.0px;font-size:12px;color:#131722;font-weight:normal;letter-spacing:-0.12px;left:724px;width:300px;text-align:center;">17</div>
<div class="t" style="top:763.0px;font-size:12px;color:#131722;font-weight:normal;letter-spacing:-0.12px;left:867px;width:300px;text-align:center;">2月</div>
<div class="t" style="top:763.0px;font-size:12px;color:#131722;font-weight:normal;letter-spacing:-0.12px;left:983px;width:300px;text-align:center;">14</div>
<div class="t" style="top:763.0px;font-size:12px;color:#131722;font-weight:normal;letter-spacing:-0.12px;left:1126px;width:300px;text-align:center;">3月</div>
<div class="t" style="top:763.0px;font-size:12px;color:#131722;font-weight:normal;letter-spacing:-0.12px;left:1243px;width:300px;text-align:center;">14</div>
<div class="t" style="top:763.0px;font-size:12px;color:#131722;font-weight:normal;letter-spacing:-0.12px;left:1334px;width:300px;text-align:center;">23</div>
<div class="t" style="top:763.0px;font-size:12px;color:#131722;font-weight:normal;letter-spacing:-0.12px;left:1424px;width:300px;text-align:center;">4月</div>
<div class="t" style="top:763.0px;font-size:12px;color:#131722;font-weight:normal;letter-spacing:-0.12px;left:1567px;width:300px;text-align:center;">18</div>
<div class="t" style="top:763.0px;font-size:12px;color:#131722;font-weight:bold;letter-spacing:-0.12px;left:595px;width:300px;text-align:center;">2022</div>
<div class="t" style="top:5.800000000000001px;font-size:16px;color:#131722;font-weight:normal;letter-spacing:0.95px;left:10px;">黄金/美元</div>
<div class="t" style="top:5.5px;font-size:15px;color:#131722;font-weight:normal;letter-spacing:-2.2px;left:95.3px;">1D</div>
<div class="t" style="top:5.5px;font-size:15px;color:#131722;font-weight:normal;letter-spacing:-0.9px;left:124.3px;">OANDA</div>
<div class="t" style="top:5.5px;font-size:15px;color:#131722;font-weight:normal;letter-spacing:0px;left:188px;">TradingView</div>
<div class="t" style="top:5.5px;font-size:15.5px;color:#9598a1;font-weight:normal;letter-spacing:0px;left:-61.599999999999994px;width:300px;text-align:center;">·</div>
<div class="t" style="top:5.5px;font-size:15.5px;color:#9598a1;font-weight:normal;letter-spacing:0px;left:-31.5px;width:300px;text-align:center;">·</div>
<div class="t" style="top:5.5px;font-size:15.5px;color:#9598a1;font-weight:normal;letter-spacing:0px;left:30.19999999999999px;width:300px;text-align:center;">·</div>
<div class="t" style="top:4.5px;font-size:15px;color:#e91e63;font-weight:bold;letter-spacing:0px;left:166.8px;width:300px;text-align:center;">≈</div>
<div class="t" style="top:5.5px;font-size:13px;color:#434651;font-weight:normal;letter-spacing:0px;left:343.6px;">开</div>
<div class="t" style="top:5.5px;font-size:13px;color:#434651;font-weight:normal;letter-spacing:0px;left:357.20000000000005px;">=</div>
<div class="t" style="top:5.5px;font-size:13px;color:#0a9a86;font-weight:normal;letter-spacing:-0.4px;left:366px;">1945.675</div>
<div class="t" style="top:5.5px;font-size:13px;color:#434651;font-weight:normal;letter-spacing:0px;left:423.7px;">高</div>
<div class="t" style="top:5.5px;font-size:13px;color:#434651;font-weight:normal;letter-spacing:0px;left:437.3px;">=</div>
<div class="t" style="top:5.5px;font-size:13px;color:#0a9a86;font-weight:normal;letter-spacing:-0.4px;left:446px;">1945.675</div>
<div class="t" style="top:5.5px;font-size:13px;color:#434651;font-weight:normal;letter-spacing:0px;left:503.1px;">低</div>
<div class="t" style="top:5.5px;font-size:13px;color:#434651;font-weight:normal;letter-spacing:0px;left:516.7px;">=</div>
<div class="t" style="top:5.5px;font-size:13px;color:#0a9a86;font-weight:normal;letter-spacing:-0.4px;left:524.7px;">1931.055</div>
<div class="t" style="top:5.5px;font-size:13px;color:#434651;font-weight:normal;letter-spacing:0px;left:582.4px;">收</div>
<div class="t" style="top:5.5px;font-size:13px;color:#434651;font-weight:normal;letter-spacing:0px;left:596.0px;">=</div>
<div class="t" style="top:5.5px;font-size:13px;color:#0a9a86;font-weight:normal;letter-spacing:-0.4px;left:604px;">1931.520</div>
<div class="t" style="top:5.5px;font-size:13px;color:#0a9a86;font-weight:normal;letter-spacing:-0.4px;left:661.8px;">−14.155</div>
<div class="t" style="top:5.5px;font-size:13px;color:#0a9a86;font-weight:normal;letter-spacing:-0.4px;left:711.8px;">(−0.73%)</div>
<div class="t" style="top:33.5px;font-size:13px;color:#f23645;font-weight:normal;letter-spacing:-0.4px;left:-107px;width:300px;text-align:center;">1931.395</div>
<div class="t" style="top:33.5px;font-size:13px;color:#50535e;font-weight:normal;letter-spacing:-0.4px;left:85.5px;">25.0</div>
<div class="t" style="top:33.5px;font-size:13px;color:#2962ff;font-weight:normal;letter-spacing:-0.4px;left:0px;width:300px;text-align:center;">1931.645</div>
<div class="t" style="top:411.5px;font-size:12px;color:#434651;font-weight:normal;letter-spacing:-0.06px;left:9.6px;">MACD 12 26 close 9 EMA EMA</div>
<div class="t" style="top:411.5px;font-size:12px;color:#b2dfdb;font-weight:normal;letter-spacing:0.13px;left:184.6px;">5.123</div>
<div class="t" style="top:411.5px;font-size:12px;color:#2962ff;font-weight:normal;letter-spacing:0.13px;left:222.9px;">27.662</div>
<div class="t" style="top:411.5px;font-size:12px;color:#ff6d00;font-weight:normal;letter-spacing:0.13px;left:267.5px;">22.538</div>
<div style="position:absolute;left:4px;top:660px;width:117px;height:19px;background:rgba(255,255,255,0.75)"></div>
<div class="t" style="top:658.5px;font-size:12px;color:#434651;font-weight:normal;letter-spacing:0.04px;left:9.6px;">RSI 14 close</div>
<div class="t" style="top:658.5px;font-size:12px;color:#7e57c2;font-weight:normal;letter-spacing:0.3px;left:86.3px;">67.49</div>
<div class="t" style="top:94.5px;font-size:11px;color:#fff;font-weight:bold;letter-spacing:-0.6px;left:1560.7px;width:300px;text-align:center;">XAUUSD</div>
<div class="t" style="top:94.5px;font-size:12px;color:#fff;font-weight:bold;letter-spacing:-0.2px;left:1623.4px;width:300px;text-align:center;">1931.520</div>
<div class="t" style="top:109.0px;font-size:12px;color:#c9f3ec;font-weight:normal;letter-spacing:-0.1px;left:1622.3px;width:300px;text-align:center;">20:35:06</div>
<div class="t" style="top:5.0px;font-size:12.4px;color:#131722;font-weight:normal;letter-spacing:0px;left:1760.2px;transform:scaleX(0.81);transform-origin:0 50%;">USD</div>
<div class="t" style="top:797.5px;font-size:14px;color:#131722;font-weight:normal;letter-spacing:-0.3px;left:17.5px;">1天</div>
<div class="t" style="top:797.5px;font-size:14px;color:#131722;font-weight:normal;letter-spacing:-0.3px;left:52.5px;">5天</div>
<div class="t" style="top:797.5px;font-size:14px;color:#131722;font-weight:normal;letter-spacing:-0.3px;left:88px;">1个月</div>
<div class="t" style="top:797.5px;font-size:14px;color:#131722;font-weight:normal;letter-spacing:-0.3px;left:137px;">3个月</div>
<div class="t" style="top:797.5px;font-size:14px;color:#131722;font-weight:normal;letter-spacing:-0.3px;left:186.5px;">6个月</div>
<div class="t" style="top:797.5px;font-size:14px;color:#131722;font-weight:normal;letter-spacing:-0.3px;left:235.6px;"><span style="letter-spacing:-1.1px">YTD</span></div>
<div class="t" style="top:797.5px;font-size:14px;color:#131722;font-weight:normal;letter-spacing:-0.3px;left:274.5px;">1年</div>
<div class="t" style="top:797.5px;font-size:14px;color:#131722;font-weight:normal;letter-spacing:-0.3px;left:310px;">5年</div>
<div class="t" style="top:797.5px;font-size:14px;color:#131722;font-weight:normal;letter-spacing:-0.3px;left:345px;">全部</div>
<div class="t" style="top:797.5px;font-size:14px;color:#131722;font-weight:normal;letter-spacing:-0.17px;left:1566.5px;">09:24:54 (UTC+8)</div>
<div class="t" style="top:797.5px;font-size:14px;color:#131722;font-weight:normal;letter-spacing:0px;left:1710px;">%</div>
<div class="t" style="top:797.5px;font-size:14px;color:#131722;font-weight:normal;letter-spacing:-0.3px;left:1738px;">log</div>
<div class="t" style="top:797.5px;font-size:14px;color:#2962ff;font-weight:normal;letter-spacing:0.3px;left:1769.5px;">auto</div>
</body></html>
